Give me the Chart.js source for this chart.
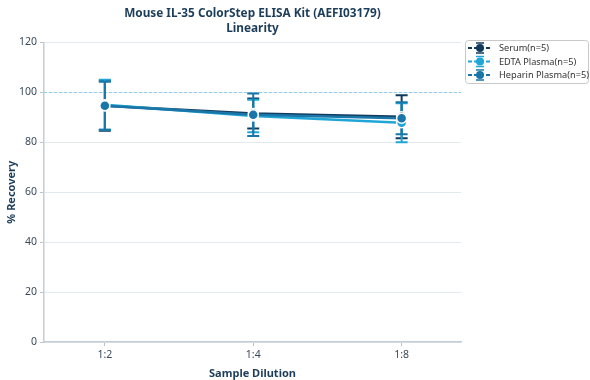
<!DOCTYPE html>
<html>
<head>
<meta charset="utf-8">
<script src="https://cdn.jsdelivr.net/npm/chart.js@4.4.1/dist/chart.umd.min.js"></script>
<style>
  html, body { margin: 0; padding: 0; background: #fff; }
  #wrap { width: 590px; height: 380px; }
</style>
</head>
<body>
<div id="wrap"><canvas id="linChart" width="590" height="380"></canvas></div>
<script>
// dilutions on the x axis
var dilutions = ['1:2', '1:4', '1:8'];
var seriesNames = ['Serum(n=5)', 'EDTA Plasma(n=5)', 'Heparin Plasma(n=5)'];
// mean recovery (%)
var serumMean = [94.6, 91.5, 90.2];
var edtaMean = [95.0, 90.5, 87.8];
var heparinMean = [94.6, 91.0, 89.6];
// error (+/-)
var serumErr = [10.0, 6.0, 8.6];
var edtaErr = [10.0, 6.5, 7.8];
var heparinErr = [9.6, 8.5, 6.4];
var refLine = 100;
var yTicks = [0, 20, 40, 60, 80, 100, 120];

var colors = ['#123a5c', '#1fa6d6', '#1a76a8'];
var means = [serumMean, edtaMean, heparinMean];
var errs = [serumErr, edtaErr, heparinErr];

function toPoints(arr) {
    return arr.map(function (v, i) { return { x: i, y: v }; });
}

var datasets = [];
for (var k = 0; k < 3; k++) {
    datasets.push({
        label: seriesNames[k],
        data: toPoints(means[k]),
        err: errs[k],
        borderColor: colors[k],
        backgroundColor: colors[k],
        borderWidth: 2.5,
        pointRadius: 5,
        pointBorderColor: '#ffffff',
        pointBorderWidth: 1.5,
        pointBackgroundColor: colors[k],
        tension: 0,
        order: 3 - k
    });
}

// dashed line at 100% and error bars
var extras = {
    id: 'extras',
    beforeDatasetsDraw: function (chart) {
        var c = chart.ctx, x = chart.scales.x, y = chart.scales.y, a = chart.chartArea;
        c.save();
        c.strokeStyle = '#8fd0e8';
        c.lineWidth = 1;
        c.setLineDash([3, 2]);
        var py = Math.round(y.getPixelForValue(refLine)) + 0.5;
        c.beginPath();
        c.moveTo(a.left, py);
        c.lineTo(a.right, py);
        c.stroke();
        c.setLineDash([]);
        chart.data.datasets.forEach(function (ds) {
            c.strokeStyle = ds.borderColor;
            c.lineWidth = 2;
            ds.data.forEach(function (p, i) {
                var px = x.getPixelForValue(p.x);
                var top = y.getPixelForValue(p.y + ds.err[i]);
                var bot = y.getPixelForValue(p.y - ds.err[i]);
                c.beginPath();
                c.moveTo(px, top); c.lineTo(px, bot);
                c.moveTo(px - 6, top); c.lineTo(px + 6, top);
                c.moveTo(px - 6, bot); c.lineTo(px + 6, bot);
                c.stroke();
            });
        });
        c.restore();
    },
    afterDraw: function (chart) {
        var c = chart.ctx;
        var lx = 465, ly = 40, lw = 123, lh = 43;
        c.save();
        c.strokeStyle = '#c8c8c8';
        c.lineWidth = 1;
        c.beginPath();
        c.roundRect(lx + 0.5, ly + 0.5, lw, lh, 3);
        c.stroke();
        c.font = '9.2px "Noto Sans"';
        c.textBaseline = 'middle';
        chart.data.datasets.forEach(function (ds, i) {
            var cy = ly + 8 + i * 13.5;
            c.strokeStyle = ds.borderColor;
            c.fillStyle = ds.borderColor;
            c.lineWidth = 2;
            c.setLineDash([4, 2]);
            c.beginPath();
            c.moveTo(lx + 3, cy); c.lineTo(lx + 27, cy);
            c.stroke();
            c.setLineDash([]);
            c.lineWidth = 1.5;
            c.beginPath();
            c.moveTo(lx + 11, cy - 5); c.lineTo(lx + 19, cy - 5);
            c.moveTo(lx + 11, cy + 5); c.lineTo(lx + 19, cy + 5);
            c.stroke();
            c.beginPath();
            c.arc(lx + 15, cy, 4, 0, Math.PI * 2);
            c.fill();
            c.fillStyle = '#333333';
            c.fillText(ds.label, lx + 34, cy + 0.5);
        });
        c.restore();
    }
};

new Chart(document.getElementById('linChart'), {
    type: 'line',
    data: { datasets: datasets },
    plugins: [extras],
    options: {
        responsive: false,
        animation: false,
        layout: { padding: { left: 0, right: 129, top: 4, bottom: 0 } },
        plugins: {
            legend: { display: false },
            tooltip: { enabled: false },
            title: {
                display: true,
                fullSize: false,
                text: ['Mouse IL-35 ColorStep ELISA Kit (AEFI03179)', 'Linearity'],
                color: '#1c3d5a',
                font: { family: 'Noto Sans', size: 11.8, weight: 'bold', lineHeight: 1.2 },
                padding: { top: 3, bottom: 7 }
            }
        },
        scales: {
            x: {
                type: 'linear',
                min: -0.41,
                max: 2.4,
                afterBuildTicks: function (s) {
                    s.ticks = dilutions.map(function (d, i) { return { value: i }; });
                },
                afterFit: function (s) { s.height = 38; },
                ticks: {
                    callback: function (v) { return dilutions[v]; },
                    color: '#3a4a5a',
                    font: { family: 'Noto Sans', size: 10.5 },
                    padding: 3
                },
                grid: { display: true, drawOnChartArea: false, tickLength: 4, color: '#b8c4cc' },
                border: { color: '#c4ccd4', width: 1.5 },
                title: {
                    display: true,
                    text: 'Sample Dilution',
                    color: '#1c3d5a',
                    font: { family: 'Noto Sans', size: 11, weight: 'bold' },
                    padding: { top: 0, bottom: 0 }
                }
            },
            y: {
                min: 0,
                max: 120,
                afterBuildTicks: function (s) {
                    s.ticks = yTicks.map(function (v) { return { value: v }; });
                },
                afterFit: function (s) { s.width = 44; },
                ticks: {
                    color: '#3a4a5a',
                    font: { family: 'Noto Sans', size: 10.5 },
                    padding: 3
                },
                grid: {
                    color: '#e2eaee',
                    tickColor: '#b8c4cc',
                    tickLength: 4
                },
                border: { color: '#c4ccd4', width: 1.5 },
                title: {
                    display: true,
                    text: '% Recovery',
                    color: '#1c3d5a',
                    font: { family: 'Noto Sans', size: 11, weight: 'bold' },
                    padding: { top: 5, bottom: 0 }
                }
            }
        }
    }
});
</script>
</body>
</html>
